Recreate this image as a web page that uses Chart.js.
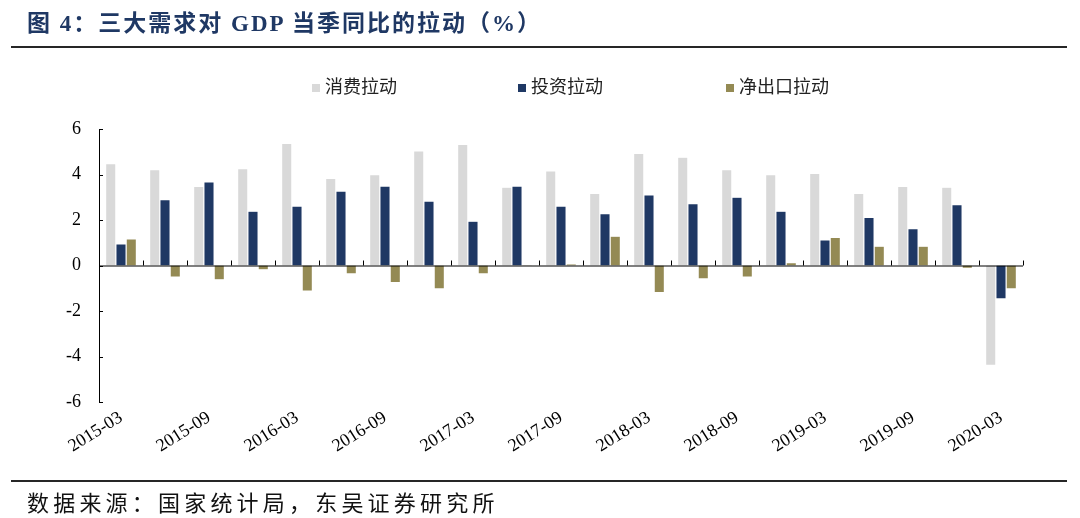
<!DOCTYPE html>
<html>
<head>
<meta charset="utf-8">
<script src="https://cdn.jsdelivr.net/npm/chart.js@4/dist/chart.umd.min.js"></script>
<style>
  html, body { margin: 0; padding: 0; background: #fff; }
  #wrap { position: relative; width: 1080px; height: 518px; overflow: hidden; background: #fff; }
  #title { position: absolute; left: 27px; top: 8px; line-height: 32px; white-space: pre;
           font-family: "Liberation Serif", "Noto Sans CJK SC", serif; font-weight: bold; font-size: 23px;
           letter-spacing: 2px; color: #1f3864; }
  .rule { position: absolute; left: 11px; width: 1056px; height: 2px; background: #262626; }
  #footer { position: absolute; left: 27px; top: 486px; line-height: 30px; white-space: pre;
            font-family: "Noto Sans CJK SC", sans-serif; font-size: 22px; letter-spacing: 4.2px; color: #111; }
  #legend { position: absolute; top: 71px; left: 0; width: 1080px; height: 28px; }
  .lg { position: absolute; top: 0; height: 28px; line-height: 28px; white-space: nowrap;
        font-family: "Noto Sans CJK SC", sans-serif; font-size: 18px; color: #222; }
  .lg i { display: inline-block; width: 8px; height: 8px; margin-right: 5px; vertical-align: 1px; }
  #chartBox { position: absolute; left: 0; top: 0; width: 1080px; height: 518px; }
</style>
</head>
<body>
<div id="wrap">
  <div id="chartBox"><canvas id="c" width="1080" height="518"></canvas></div>
  <div id="title">图 4：三大需求对 GDP 当季同比的拉动（%）</div>
  <div class="rule" style="top:46px"></div>
  <div id="legend"></div>
  <div class="rule" style="top:480px;height:1.6px"></div>
  <div id="footer">数据来源：国家统计局，东吴证券研究所</div>
</div>
<script>
// ---- data ----
const categories = ["2015-03","2015-06","2015-09","2015-12","2016-03","2016-06","2016-09","2016-12",
                    "2017-03","2017-06","2017-09","2017-12","2018-03","2018-06","2018-09","2018-12",
                    "2019-03","2019-06","2019-09","2019-12","2020-03"];
const seriesNames = ["消费拉动", "投资拉动", "净出口拉动"];
const consumption = [4.48, 4.21, 3.48, 4.26, 5.37, 3.83, 3.99, 5.04, 5.32, 3.44, 4.16, 3.17, 4.93, 4.76, 4.21, 3.99, 4.05, 3.17, 3.48, 3.44, -4.39];
const investment  = [0.95, 2.89, 3.67, 2.39, 2.61, 3.27, 3.49, 2.83, 1.95, 3.49, 2.61, 2.28, 3.10, 2.72, 3.00, 2.39, 1.13, 2.11, 1.62, 2.67, -1.47];
const netExports  = [1.17, -0.51, -0.63, -0.19, -1.13, -0.37, -0.75, -1.03, -0.37, 0.02, 0.07, 1.29, -1.19, -0.59, -0.51, 0.13, 1.23, 0.85, 0.85, -0.13, -1.03];
const yTicks = [-6, -4, -2, 0, 2, 4, 6];

// ---- styles ----
const colors = ["#d9d9d9", "#1f3864", "#948a54"];
const legendLeft = [312, 518, 726];

const legendEl = document.getElementById('legend');
seriesNames.forEach((n, i) => {
  const d = document.createElement('div');
  d.className = 'lg';
  d.style.left = legendLeft[i] + 'px';
  d.innerHTML = '<i style="background:' + colors[i] + '"></i>' + n;
  legendEl.appendChild(d);
});

const axisPlugin = {
  id: 'axisPlugin',
  afterDatasetsDraw(chart) {
    const { ctx, chartArea, scales } = chart;
    const x = scales.x, y = scales.y;
    const y0 = y.getPixelForValue(0);
    ctx.save();
    ctx.strokeStyle = '#000';
    ctx.lineWidth = 1;
    ctx.beginPath();
    ctx.moveTo(chartArea.left, y0 + 0.5);
    ctx.lineTo(chartArea.right, y0 + 0.5);
    const n = categories.length;
    const half = (x.getPixelForValue(1) - x.getPixelForValue(0)) / 2;
    for (let i = 1; i <= n; i++) {
      const px = Math.round(x.getPixelForValue(i - 1) + half) + 0.5;
      ctx.moveTo(px, y0);
      ctx.lineTo(px, y0 - 5);
    }
    yTicks.forEach(v => {
      const py = Math.round(y.getPixelForValue(v)) + 0.5;
      ctx.moveTo(chartArea.left, py);
      ctx.lineTo(chartArea.left + 4, py);
    });
    ctx.stroke();
    ctx.restore();
  }
};

new Chart(document.getElementById('c'), {
  type: 'bar',
  data: {
    labels: categories,
    datasets: [
      { label: seriesNames[0], data: consumption, backgroundColor: colors[0] },
      { label: seriesNames[1], data: investment, backgroundColor: colors[1] },
      { label: seriesNames[2], data: netExports, backgroundColor: colors[2] }
    ].map(d => Object.assign(d, { borderWidth: 0.6, borderColor: 'rgba(255,255,255,0.45)',
                                  categoryPercentage: 0.7, barPercentage: 1.0 }))
  },
  options: {
    responsive: false,
    animation: false,
    devicePixelRatio: 1,
    layout: { padding: { left: 0, right: 57, top: 129, bottom: 0 } },
    plugins: { legend: { display: false }, tooltip: { enabled: false } },
    scales: {
      x: {
        grid: { display: false },
        border: { display: false },
        ticks: {
          autoSkip: false, maxRotation: 32, minRotation: 32, padding: -3,
          color: '#000', font: { family: 'Liberation Serif', size: 18 },
          callback: (v, i) => (i % 2 === 0 ? categories[i] : '')
        },
        afterFit: s => { s.height = 116; }
      },
      y: {
        min: -6, max: 6,
        grid: { display: false, drawTicks: false },
        border: { display: true, color: '#000', width: 1 },
        ticks: { stepSize: 2, padding: 18, color: '#000', font: { family: 'Liberation Serif', size: 18 } },
        afterFit: s => { s.width = 99; }
      }
    }
  },
  plugins: [axisPlugin]
});
</script>
</body>
</html>
